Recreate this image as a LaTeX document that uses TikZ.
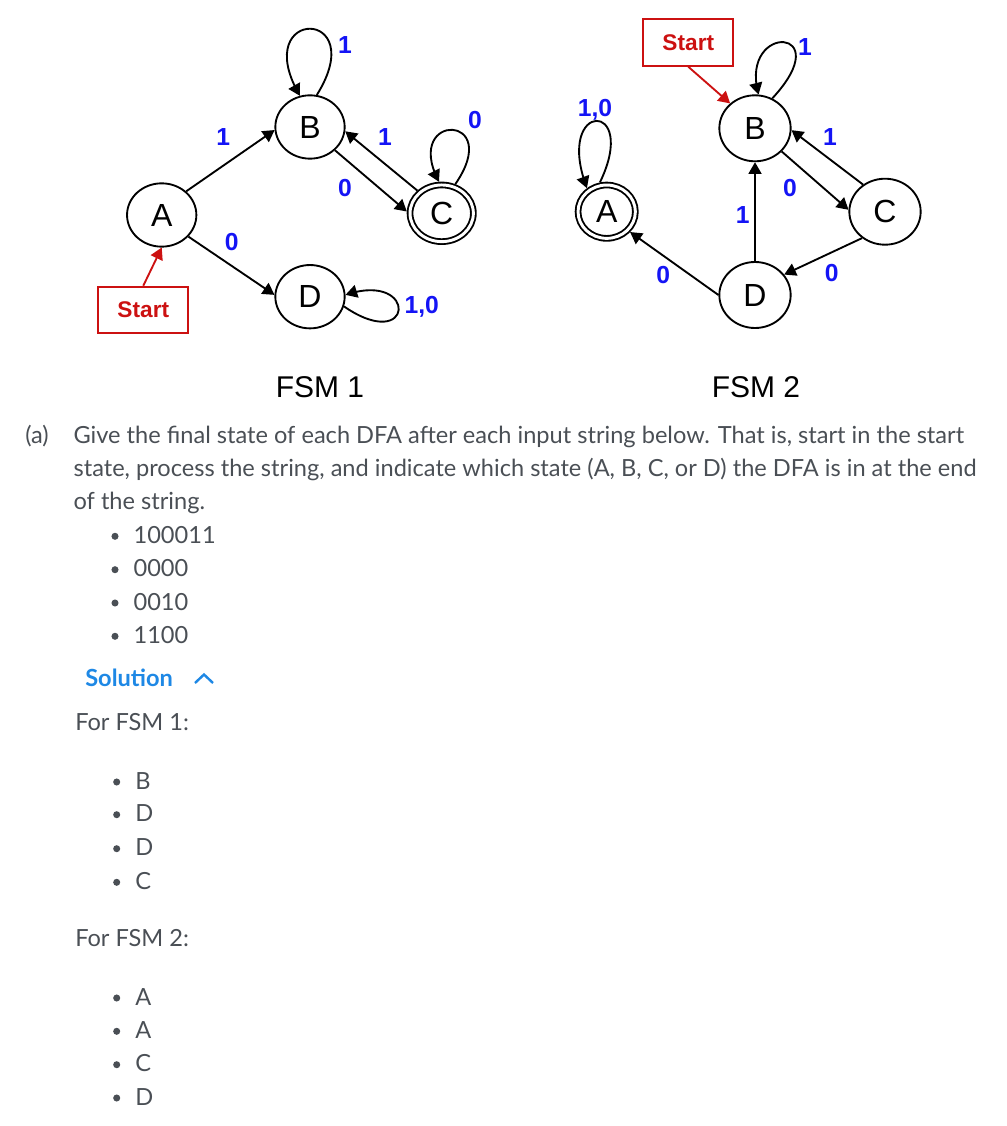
\documentclass[tikz,border=0pt]{standalone}
\usepackage{fontspec}
\setmainfont{Lato}
\newfontfamily\arialfont{Liberation Sans}
\usetikzlibrary{shapes,shapes.geometric,arrows,arrows.meta}
\definecolor{startred}{HTML}{CC1111}
\definecolor{labelblue}{HTML}{1414F5}
\definecolor{bodygray}{HTML}{4A4F55}
\definecolor{solblue}{HTML}{1E88E5}

\begin{document}
\begin{tikzpicture}[x=0.7500pt,y=-0.7500pt]
	\tikzstyle{every node}=[inner sep=0pt]
	\tikzstyle{state}=[ellipse, draw, line width=1.4pt, minimum width=52pt, minimum height=47.5pt, outer sep=0.7pt, font=\arialfont\fontsize{24}{24}\selectfont]
	\tikzstyle{bigstate}=[state, minimum width=53.5pt, minimum height=49.5pt]
	\tikzstyle{accept}=[state, double, double distance=2.2pt, minimum width=47.5pt, minimum height=42.5pt, outer sep=2.5pt]
	\tikzstyle{trans}=[-{triangle 60[scale=1.5000]}, line width=1.4pt]
	\tikzstyle{startedge}=[trans, startred]
	\tikzstyle{startbox}=[draw=startred, line width=1.4pt, text=startred, minimum width=67.5pt, minimum height=35pt, font=\arialfont\bfseries\fontsize{17}{17}\selectfont]
	\tikzstyle{lbl}=[text=labelblue, font=\arialfont\bfseries\fontsize{18.5}{18.5}\selectfont]
	\tikzstyle{fsmtitle}=[font=\arialfont\fontsize{22.5}{22.5}\selectfont]
	\tikzstyle{bodytext}=[anchor=base west, text=bodygray, font=\fontsize{17.7}{20}\selectfont]
	\tikzstyle{bullet}=[circle, fill=bodygray, minimum size=5.3pt]

	\useasboundingbox (0.0000,0.0000) rectangle (1006.0000,1126.0000);

	%% FSM 1
	\node [state]  (A1) at (161.7000,215.0000) {A};
	\node [state]  (B1) at (310.0000,127.0000) {B};
	\node [accept] (C1) at (441.7000,213.3000) {C};
	\node [state]  (D1) at (310.0000,296.7000) {D};
	\node [startbox] (S1) at (143.3000,310.0000) {Start};

	\draw [trans] (A1.44) -- (B1.185);
	\draw [trans] (A1.-39) -- (D1.177);
	\draw [trans] (B1.-43) -- (C1.177);
	\draw [trans] (C1.137) -- (B1.-7);
	\draw [trans] (B1.78) .. controls +(55,-88) and +(-50,-89) .. (B1.108);
	\draw [trans] (C1.65) .. controls +(49,-71) and +(-35,-70) .. (C1.95);
	\draw [trans] (D1.-16) .. controls +(70,48) and +(73,-23) .. (D1.3);
	\draw [startedge] (S1.north) -- (A1.-90);

	\node [lbl] (a1b1) at (223.3000,136.7000) {1};
	\node [lbl] (a1d1) at (231.7000,241.7000) {0};
	\node [lbl] (b1c1) at (345.0000,188.3000) {0};
	\node [lbl] (c1b1) at (385.0000,136.7000) {1};
	\node [lbl] (b1b1) at (345.0000,45.0000) {1};
	\node [lbl] (c1c1) at (475.0000,120.0000) {0};
	\node [lbl] (d1d1) at (421.7000,306.7000) {1,0};

	%% FSM 2
	\node [accept, minimum width=43pt, minimum height=40pt] (A2) at (606.7000,211.7000) {A};
	\node [bigstate] (B2) at (755.0000,128.3000) {B};
	\node [bigstate] (C2) at (885.0000,211.7000) {C};
	\node [bigstate] (D2) at (755.0000,295.0000) {D};
	\node [startbox] (S2) at (688.3000,42.5000) {Start};

	\draw [trans] (B2.-41) -- (C2.177);
	\draw [trans] (C2.129) -- (B2.-3);
	\draw [trans] (C2.229) -- (D2.35);
	\draw [trans] (D2.north) -- (B2.south);
	\draw [trans] (D2.west) -- (A2.-41);
	\draw [trans] (B2.60) .. controls +(67,-72) and +(-18,-72) .. (B2.84);
	\draw [trans] (A2.103) .. controls +(40,-83) and +(-32,-88) .. (A2.130);
	\draw [startedge] (S2.south) -- (B2.135);

	\node [lbl] (a2a2) at (595.0000,109.7000) {1,0};
	\node [lbl] (b2b2) at (805.0000,46.7000) {1};
	\node [lbl] (b2c2) at (790.0000,188.3000) {0};
	\node [lbl] (c2b2) at (830.0000,136.7000) {1};
	\node [lbl] (d2b2) at (742.7000,215.0000) {1};
	\node [lbl] (d2a2) at (663.3000,275.0000) {0};
	\node [lbl] (c2d2) at (831.7000,273.3000) {0};

	\node [fsmtitle] (t1) at (320.0000,387.0000) {FSM 1};
	\node [fsmtitle] (t2) at (756.0000,387.0000) {FSM 2};

	%% question
	\node [bodytext] (qa) at (25.0000,443.3000) {(a)};
	\node [bodytext] (q1) at (73.3000,443.3000) {Give the final state of each DFA after each input string below. That is, start in the start};
	\node [bodytext] (q2) at (73.3000,476.0000) {state, process the string, and indicate which state (A, B, C, or D) the DFA is in at the end};
	\node [bodytext] (q3) at (73.3000,509.3000) {of the string.};
	\node [bullet] (p1) at (115.0000,536.3000) {};
	\node [bullet] (p2) at (115.0000,569.7000) {};
	\node [bullet] (p3) at (115.0000,603.0000) {};
	\node [bullet] (p4) at (115.0000,636.3000) {};
	\node [bodytext] (i1) at (133.3000,543.3000) {100011};
	\node [bodytext] (i2) at (133.3000,576.7000) {0000};
	\node [bodytext] (i3) at (133.3000,610.0000) {0010};
	\node [bodytext] (i4) at (133.3000,643.3000) {1100};

	%% solution
	\node [bodytext, text=solblue, font=\bfseries\fontsize{17.7}{20}\selectfont] (sol) at (85.0000,686.7000) {Solution};
	\draw [solblue, line width=1.8pt] (195.0000,683.0000) -- (204.0000,674.5000) -- (213.0000,683.0000);

	\node [bodytext] (f1) at (75.0000,730.7000) {For FSM 1:};
	\node [bullet] (r1) at (116.7000,782.0000) {};
	\node [bullet] (r2) at (116.7000,814.7000) {};
	\node [bullet] (r3) at (116.7000,848.7000) {};
	\node [bullet] (r4) at (116.7000,882.3000) {};
	\node [bodytext] (s1) at (135.0000,789.0000) {B};
	\node [bodytext] (s2) at (135.0000,821.7000) {D};
	\node [bodytext] (s3) at (135.0000,855.7000) {D};
	\node [bodytext] (s4) at (135.0000,889.3000) {C};

	\node [bodytext] (f2) at (75.0000,946.7000) {For FSM 2:};
	\node [bullet] (u1) at (116.7000,998.0000) {};
	\node [bullet] (u2) at (116.7000,1031.3000) {};
	\node [bullet] (u3) at (116.7000,1064.7000) {};
	\node [bullet] (u4) at (116.7000,1098.0000) {};
	\node [bodytext] (v1) at (135.0000,1005.0000) {A};
	\node [bodytext] (v2) at (135.0000,1038.3000) {A};
	\node [bodytext] (v3) at (135.0000,1071.7000) {C};
	\node [bodytext] (v4) at (135.0000,1105.0000) {D};

\end{tikzpicture}
\end{document}
